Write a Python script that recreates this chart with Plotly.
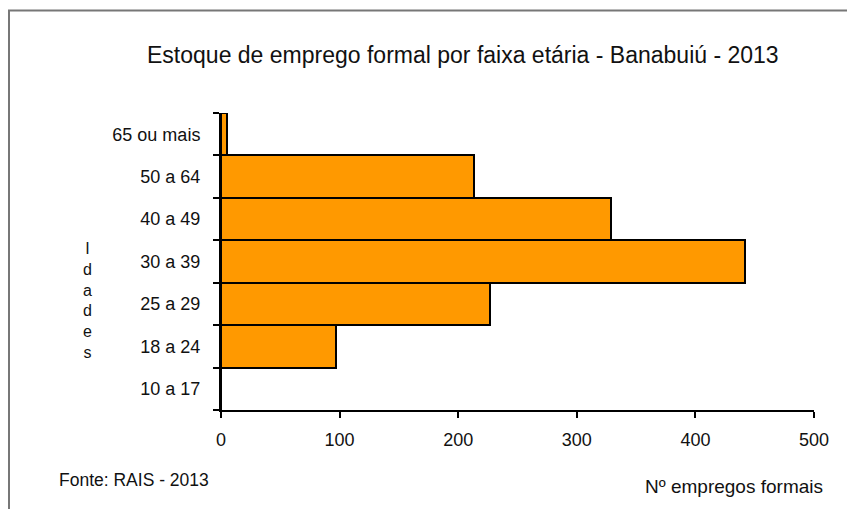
import plotly.graph_objects as go

# faixas etarias (bottom to top) and number of formal jobs
faixas = ['10 a 17', '18 a 24', '25 a 29', '30 a 39', '40 a 49', '50 a 64', '65 ou mais']
empregos = [0, 97, 227, 442, 329, 213, 5]
x_ticks = [0, 100, 200, 300, 400, 500]

FONT = 'Liberation Sans, Arial, sans-serif'

fig = go.Figure()
fig.add_trace(go.Bar(
    x=empregos, y=faixas, orientation='h',
    marker=dict(color='#FF9900', line=dict(color='black', width=2)),
    showlegend=False,
))

# the page body adds 8px around the figure, so size it to fill the window
fig.update_layout(
    width=847, height=501,
    margin=dict(l=213, r=41, t=105, b=99),
    paper_bgcolor='white', plot_bgcolor='white',
    bargap=0,
    font=dict(family=FONT, size=18, color='#111'),
    title=dict(text='Estoque de emprego formal por faixa etária - Banabuiú - 2013',
               x=0.537, xanchor='center', y=0.906, yanchor='middle',
               font=dict(family=FONT, size=23, color='#111')),
)

fig.update_xaxes(
    range=[0, 500], tickvals=x_ticks, showgrid=False, zeroline=False,
    showline=True, linecolor='black', linewidth=2,
    ticks='outside', ticklen=6, tickwidth=2, tickcolor='black',
    ticklabelstandoff=6,
)
fig.update_yaxes(
    categoryorder='array', categoryarray=faixas,
    showgrid=False, zeroline=False,
    showline=True, linecolor='black', linewidth=2,
    ticks='outside', tickson='boundaries', ticklen=6, tickwidth=2, tickcolor='black',
    ticklabelstandoff=15,
)

# outer frame (runs past the right and bottom edges as in the reference)
fig.add_shape(type='rect', xref='paper', yref='paper',
              x0=-0.3575, x1=1.1, y0=-0.4, y1=1.345,
              line=dict(color='#777', width=2), fillcolor='rgba(0,0,0,0)')

fig.add_annotation(text='<br>'.join('Idades'), xref='paper', yref='paper',
                   x=-0.236, y=0.37, showarrow=False, align='center',
                   font=dict(family=FONT, size=16, color='#111'))
fig.add_annotation(text='Nº empregos formais', xref='paper', yref='paper',
                   x=1.0186, y=-0.259, xanchor='right', yanchor='middle', showarrow=False,
                   font=dict(family=FONT, size=19, color='#111'))
fig.add_annotation(text='Fonte: RAIS - 2013', xref='paper', yref='paper',
                   x=-0.2766, y=-0.236, xanchor='left', yanchor='middle', showarrow=False,
                   font=dict(family=FONT, size=17.5, color='#111'))

fig.write_html('out.html')
